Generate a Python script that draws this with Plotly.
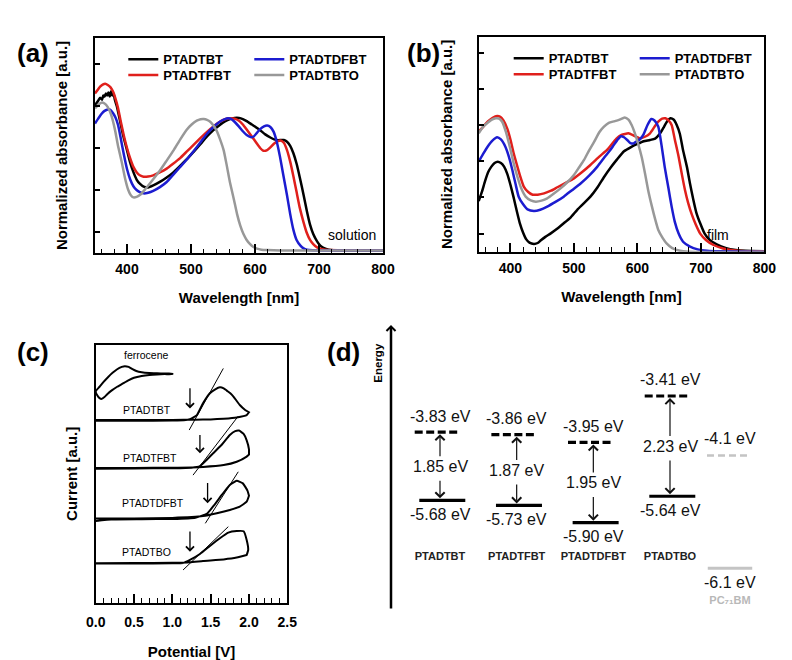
import plotly.graph_objects as go

W, H = 792, 660
FONT = "Liberation Sans, Arial, Helvetica, sans-serif"

# ======================= DATA =======================
# (a) solution UV-vis (normalized absorbance, a.u.)
sol_bk_wl = [350, 355, 358, 361, 363, 365, 367, 369, 371, 373, 375, 377, 379, 381, 384, 388, 394, 400, 405, 410,
             415, 420, 426, 433, 441, 452, 462, 472, 483, 494, 504, 515, 525, 535, 545, 553, 561, 568, 575, 581,
             587, 595, 602, 608, 616, 624, 630, 636, 641, 645, 650, 655, 660, 665, 670, 676, 681, 686, 691, 697,
             702, 707, 715, 723, 740, 760, 780, 800]
sol_bk_ab = [0.705, 0.725, 0.74, 0.73, 0.75, 0.745, 0.76, 0.75, 0.765, 0.745, 0.77, 0.75, 0.76, 0.73, 0.70, 0.645,
             0.56, 0.49, 0.43, 0.385, 0.35, 0.33, 0.316, 0.312, 0.322, 0.340, 0.360, 0.383, 0.415, 0.448, 0.482,
             0.52, 0.555, 0.585, 0.610, 0.627, 0.638, 0.643, 0.643, 0.638, 0.628, 0.612, 0.598, 0.585, 0.565,
             0.550, 0.541, 0.537, 0.538, 0.538, 0.530, 0.510, 0.475, 0.425, 0.36, 0.275, 0.20, 0.135, 0.09,
             0.055, 0.035, 0.025, 0.016, 0.013, 0.012, 0.012, 0.012, 0.012]

sol_rd_wl = [350, 355, 358, 362, 366, 370, 374, 378, 382, 386, 390, 395, 400, 405, 410, 415, 420, 426, 433, 441,
             452, 462, 472, 483, 494, 504, 515, 525, 535, 545, 553, 561, 568, 575, 581, 587, 595, 602, 608, 613,
             619, 624, 630, 636, 640, 645, 650, 655, 660, 665, 670, 676, 681, 686, 691, 697, 705, 715, 740, 800]
sol_rd_ab = [0.76, 0.78, 0.792, 0.802, 0.806, 0.80, 0.79, 0.77, 0.735, 0.69, 0.63, 0.56, 0.50, 0.45, 0.41, 0.385,
             0.37, 0.363, 0.364, 0.370, 0.385, 0.402, 0.425, 0.452, 0.485, 0.515, 0.548, 0.577, 0.603, 0.625,
             0.637, 0.642, 0.640, 0.630, 0.612, 0.588, 0.555, 0.525, 0.50, 0.487, 0.49, 0.503, 0.522, 0.533,
             0.536, 0.525, 0.49, 0.435, 0.365, 0.29, 0.215, 0.145, 0.095, 0.062, 0.042, 0.027, 0.018, 0.014,
             0.013, 0.013]

sol_bl_wl = [350, 355, 360, 365, 370, 374, 378, 382, 386, 390, 395, 400, 405, 410, 415, 420, 426, 433, 441, 452,
             462, 472, 483, 494, 504, 515, 525, 535, 545, 553, 558, 563, 568, 575, 581, 587, 593, 598, 603, 608,
             614, 619, 624, 629, 634, 639, 644, 650, 655, 660, 665, 671, 676, 681, 690, 720, 800]
sol_bl_ab = [0.617, 0.64, 0.662, 0.677, 0.684, 0.682, 0.667, 0.645, 0.61, 0.55, 0.47, 0.40, 0.35, 0.318, 0.30,
             0.29, 0.284, 0.287, 0.296, 0.315, 0.338, 0.372, 0.41, 0.448, 0.485, 0.528, 0.568, 0.600, 0.625,
             0.638, 0.642, 0.638, 0.625, 0.602, 0.580, 0.562, 0.552, 0.555, 0.572, 0.590, 0.603, 0.607, 0.600,
             0.578, 0.53, 0.459, 0.375, 0.275, 0.185, 0.11, 0.062, 0.035, 0.022, 0.016, 0.013, 0.012, 0.012]

sol_gy_wl = [350, 355, 360, 365, 370, 375, 381, 386, 392, 397, 402, 406, 410, 415, 420, 428, 436, 444, 452, 462,
             473, 483, 493, 501, 509, 515, 520, 525, 530, 535, 540, 545, 551, 556, 561, 567, 572, 577, 582, 587,
             592, 597, 603, 610, 619, 640, 700, 800]
sol_gy_ab = [0.689, 0.705, 0.716, 0.712, 0.695, 0.66, 0.59, 0.51, 0.43, 0.355, 0.30, 0.275, 0.265, 0.267, 0.276,
             0.302, 0.332, 0.363, 0.395, 0.44, 0.49, 0.54, 0.586, 0.612, 0.630, 0.637, 0.638, 0.634, 0.625, 0.607,
             0.583, 0.545, 0.49, 0.415, 0.335, 0.255, 0.185, 0.13, 0.09, 0.062, 0.043, 0.03, 0.021, 0.016,
             0.014, 0.012, 0.012, 0.012]

# (b) film UV-vis
film_bk_wl = [350, 355, 360, 365, 370, 375, 380, 385, 390, 395, 400, 405, 410, 415, 420, 425, 430, 437, 443, 448,
              455, 463, 473, 484, 495, 505, 515, 526, 537, 547, 558, 568, 579, 590, 600, 610, 620, 628, 636, 642,
              647, 652, 657, 662, 667, 672, 678, 683, 688, 693, 699, 706, 714, 725, 740, 755, 770, 800]
film_bk_ab = [0.28, 0.33, 0.39, 0.44, 0.47, 0.49, 0.497, 0.49, 0.47, 0.43, 0.37, 0.30, 0.225, 0.155, 0.105, 0.068,
              0.05, 0.043, 0.048, 0.063, 0.082, 0.10, 0.125, 0.157, 0.19, 0.23, 0.265, 0.304, 0.355, 0.41, 0.465,
              0.51, 0.555, 0.578, 0.595, 0.61, 0.617, 0.625, 0.654, 0.69, 0.72, 0.737, 0.73, 0.70, 0.65, 0.56,
              0.47, 0.375, 0.29, 0.215, 0.157, 0.10, 0.065, 0.04, 0.02, 0.01, 0.005, 0.003]

film_rd_wl = [350, 357, 364, 372, 379, 384, 389, 395, 400, 405, 411, 416, 421, 428, 435, 443, 453, 464, 474, 487,
              500, 513, 526, 540, 553, 567, 575, 586, 595, 604, 612, 620, 627, 633, 639, 644, 649, 654, 659, 665,
              670, 675, 680, 686, 692, 699, 708, 720, 735, 750, 770, 800]
film_rd_ab = [0.663, 0.69, 0.718, 0.74, 0.75, 0.745, 0.725, 0.68, 0.62, 0.545, 0.47, 0.41, 0.36, 0.33, 0.315,
              0.315, 0.322, 0.337, 0.356, 0.38, 0.405, 0.44, 0.479, 0.525, 0.565, 0.625, 0.645, 0.654, 0.64,
              0.626, 0.635, 0.654, 0.69, 0.718, 0.735, 0.737, 0.725, 0.70, 0.62, 0.525, 0.43, 0.341, 0.27,
              0.203, 0.15, 0.10, 0.065, 0.037, 0.018, 0.008, 0.003, 0.002]

film_bl_wl = [350, 357, 364, 372, 379, 385, 392, 398, 403, 408, 413, 420, 427, 437, 447, 458, 471, 484, 497, 511,
              524, 537, 550, 557, 563, 568, 574, 579, 584, 589, 594, 599, 604, 610, 616, 622, 627, 633, 638, 643,
              649, 654, 659, 665, 672, 683, 695, 710, 730, 800]
film_bl_ab = [0.497, 0.54, 0.58, 0.615, 0.632, 0.62, 0.58, 0.52, 0.451, 0.375, 0.304, 0.262, 0.234, 0.225,
              0.232, 0.249, 0.275, 0.304, 0.34, 0.378, 0.42, 0.47, 0.53, 0.56, 0.59, 0.615, 0.638, 0.632, 0.617,
              0.60, 0.598, 0.61, 0.621, 0.65, 0.70, 0.733, 0.725, 0.69, 0.59, 0.47, 0.35, 0.249, 0.165, 0.10,
              0.055, 0.028, 0.013, 0.005, 0.002, 0.0]

film_gy_wl = [350, 357, 364, 370, 377, 382, 387, 393, 400, 405, 411, 417, 424, 432, 440, 449, 458, 468, 479, 490,
              500, 508, 516, 524, 532, 540, 547, 555, 563, 571, 580, 586, 591, 596, 601, 607, 612, 617, 623, 628,
              633, 640, 646, 655, 667, 680, 800]
film_gy_ab = [0.654, 0.69, 0.712, 0.728, 0.737, 0.735, 0.718, 0.66, 0.565, 0.49, 0.414, 0.35, 0.304, 0.283,
              0.276, 0.282, 0.295, 0.32, 0.35, 0.385, 0.424, 0.465, 0.507, 0.56, 0.608, 0.66, 0.69, 0.712, 0.72,
              0.728, 0.742, 0.73, 0.70, 0.655, 0.599, 0.52, 0.433, 0.34, 0.249, 0.18, 0.12, 0.075, 0.046, 0.02,
              0.005, 0.0, 0.0]

# (c) cyclic voltammetry (potential V, current a.u. incl. stacking offset)
fc_fwd_v = [0.0, 0.05, 0.1, 0.16, 0.22, 0.28, 0.34, 0.38, 0.43, 0.48, 0.53, 0.6, 0.7, 0.8, 0.9, 1.0]
fc_fwd_i = [8.20, 8.38, 8.56, 8.75, 8.92, 9.06, 9.15, 9.18, 9.15, 9.06, 8.99, 8.94, 8.91, 8.90, 8.89, 8.89]
fc_rev_v = [1.0, 0.9, 0.8, 0.7, 0.6, 0.5, 0.42, 0.35, 0.28, 0.21, 0.15, 0.11, 0.08, 0.05, 0.02, 0.0]
fc_rev_i = [8.87, 8.87, 8.86, 8.84, 8.80, 8.73, 8.62, 8.50, 8.38, 8.24, 8.09, 7.97, 7.91, 7.94, 8.05, 8.20]

bt_fwd_v = [0.0, 0.5, 1.0, 1.15, 1.23, 1.32, 1.40, 1.49, 1.56, 1.62, 1.67, 1.71, 1.76, 1.80, 1.88, 1.95, 2.0]
bt_fwd_i = [7.06, 7.06, 7.07, 7.08, 7.12, 7.28, 7.74, 8.13, 8.28, 8.36, 8.32, 8.23, 8.12, 7.99, 7.67, 7.48, 7.39]
bt_rev_v = [2.0, 1.97, 1.84, 1.67, 1.5, 1.3, 1.0, 0.5, 0.0]
bt_rev_i = [7.39, 7.28, 7.19, 7.14, 7.11, 7.10, 7.09, 7.09, 7.09]

fbt_fwd_v = [0.0, 0.5, 1.0, 1.25, 1.36, 1.45, 1.55, 1.65, 1.75, 1.82, 1.87, 1.93, 1.97, 2.0, 2.0]
fbt_fwd_i = [5.20, 5.21, 5.22, 5.24, 5.30, 5.55, 5.85, 6.15, 6.51, 6.66, 6.68, 6.55, 6.30, 5.95, 5.75]
fbt_rev_v = [2.0, 1.97, 1.84, 1.67, 1.4, 1.0, 0.5, 0.0]
fbt_rev_i = [5.75, 5.67, 5.47, 5.34, 5.27, 5.24, 5.23, 5.23]

dfbt_fwd_v = [0.0, 0.08, 0.2, 0.6, 1.0, 1.3, 1.45, 1.55, 1.65, 1.75, 1.84, 1.92, 1.98, 2.0]
dfbt_fwd_i = [3.17, 3.20, 3.23, 3.24, 3.25, 3.30, 3.45, 3.80, 4.20, 4.57, 4.73, 4.63, 4.35, 4.15]
dfbt_rev_v = [2.0, 1.97, 1.88, 1.75, 1.58, 1.40, 1.0, 0.5, 0.0]
dfbt_rev_i = [4.15, 3.92, 3.73, 3.60, 3.47, 3.36, 3.29, 3.27, 3.27]

bo_fwd_v = [0.0, 0.5, 1.0, 1.14, 1.23, 1.36, 1.49, 1.62, 1.73, 1.84, 1.93, 1.97, 1.99, 1.97]
bo_fwd_i = [1.52, 1.52, 1.53, 1.54, 1.66, 1.89, 2.20, 2.50, 2.72, 2.78, 2.77, 2.43, 2.05, 1.85]
bo_rev_v = [1.97, 1.84, 1.67, 1.40, 1.23, 1.0, 0.5, 0.0]
bo_rev_i = [1.85, 1.75, 1.68, 1.62, 1.57, 1.55, 1.54, 1.53]

# onset tangent lines: (V0, I0, V1, I1)
tangents = [(1.22, 6.70, 1.665, 9.09), (1.27, 4.95, 1.86, 7.24),
            (1.43, 3.08, 1.86, 5.08), (1.14, 1.27, 1.73, 2.95)]
# onset arrows: (V, I_tail, I_head)
onsets = [(1.23, 8.38, 7.54), (1.36, 6.57, 5.80), (1.46, 4.70, 3.86), (1.23, 2.82, 1.98)]

# (d) energy levels
polymers = ["PTADTBT", "PTADTFBT", "PTADTDFBT", "PTADTBO"]
lumo = [-3.83, -3.86, -3.95, -3.41]
homo = [-5.68, -5.73, -5.90, -5.64]
gap = [1.85, 1.87, 1.95, 2.23]
acceptor = "PC\u2087\u2081BM"
acc_lumo = -4.1
acc_homo = -6.1

# ======================= STYLE / LAYOUT =======================
COL = {"PTADTBT": "#000000", "PTADTFBT": "#e0201c", "PTADTDFBT": "#1c1cd0", "PTADTBTO": "#989898"}


def dom_x(a, b):
    return [a / W, b / W]


def dom_y(bottom, top):
    return [1 - bottom / H, 1 - top / H]


fig = go.Figure()

sol = [("PTADTBT", sol_bk_wl, sol_bk_ab, "legend"), ("PTADTFBT", sol_rd_wl, sol_rd_ab, "legend2"),
       ("PTADTDFBT", sol_bl_wl, sol_bl_ab, "legend"), ("PTADTBTO", sol_gy_wl, sol_gy_ab, "legend2")]
film = [("PTADTBT", film_bk_wl, film_bk_ab, "legend3"), ("PTADTFBT", film_rd_wl, film_rd_ab, "legend4"),
        ("PTADTDFBT", film_bl_wl, film_bl_ab, "legend3"), ("PTADTBTO", film_gy_wl, film_gy_ab, "legend4")]

for name, x, y, lg in sol:
    fig.add_trace(go.Scatter(x=x, y=y, mode="lines", name=name, legend=lg, xaxis="x", yaxis="y",
                             line=dict(color=COL[name], width=2.5, shape="spline", smoothing=0.5)))
for name, x, y, lg in film:
    fig.add_trace(go.Scatter(x=x, y=y, mode="lines", name=name, legend=lg, xaxis="x2", yaxis="y2",
                             line=dict(color=COL[name], width=2.5, shape="spline", smoothing=0.5)))

cv = [(fc_fwd_v, fc_fwd_i, fc_rev_v, fc_rev_i), (bt_fwd_v, bt_fwd_i, bt_rev_v, bt_rev_i),
      (fbt_fwd_v, fbt_fwd_i, fbt_rev_v, fbt_rev_i), (dfbt_fwd_v, dfbt_fwd_i, dfbt_rev_v, dfbt_rev_i),
      (bo_fwd_v, bo_fwd_i, bo_rev_v, bo_rev_i)]
for fv, fi, rv, ri in cv:
    fig.add_trace(go.Scatter(x=fv + rv, y=fi + ri, mode="lines", showlegend=False, xaxis="x3", yaxis="y3",
                             line=dict(color="black", width=2, shape="spline", smoothing=0.4)))
for v0, i0, v1, i1 in tangents:
    fig.add_trace(go.Scatter(x=[v0, v1], y=[i0, i1], mode="lines", showlegend=False, xaxis="x3", yaxis="y3",
                             line=dict(color="black", width=1)))

# energy levels
for k in range(len(polymers)):
    fig.add_trace(go.Scatter(x=[k - 0.33, k + 0.27], y=[lumo[k], lumo[k]], mode="lines", showlegend=False,
                             xaxis="x4", yaxis="y4", line=dict(color="black", width=3.2, dash="8px,3.5px")))
    fig.add_trace(go.Scatter(x=[k - 0.27, k + 0.33], y=[homo[k], homo[k]], mode="lines", showlegend=False,
                             xaxis="x4", yaxis="y5", line=dict(color="black", width=3.2)))
fig.add_trace(go.Scatter(x=[-0.3, 0.25], y=[acc_lumo, acc_lumo], mode="lines", showlegend=False,
                         xaxis="x5", yaxis="y4", line=dict(color="#c4c4c4", width=2.5, dash="7px,4px")))
fig.add_trace(go.Scatter(x=[-0.29, 0.29], y=[acc_homo, acc_homo], mode="lines", showlegend=False,
                         xaxis="x5", yaxis="y6", line=dict(color="#c4c4c4", width=3)))

# axes geometry (pixels)
X4_RANGE, X4_DOM = [-0.5, 3.5], (401.67, 708.33)
X5_RANGE, X5_DOM = [-0.5, 0.5], (691.67, 768.33)
Y4_RANGE, Y4_DOM = [-4.3, -3.2], (472.6, 377.9)
Y5_RANGE, Y5_DOM = [-6.0, -5.5], (532.9, 482.0)
Y6_RANGE, Y6_DOM = [-6.2, -6.0], (578.5, 558.1)


def ypix(e, rng, dom):
    b, t = dom
    return b - (e - rng[0]) / (rng[1] - rng[0]) * (b - t)


tickfont = dict(family=FONT, size=14, color="black", weight="bold")
titlefont = dict(family=FONT, size=15, color="black", weight="bold")


def xbox(rng, dtick, mdtick, title, standoff, lstand, fmt=None):
    d = dict(range=rng, dtick=dtick, tick0=0, ticks="inside", ticklen=9, tickwidth=1.5, tickcolor="black",
             minor=dict(dtick=mdtick, ticks="inside", ticklen=4.5, tickwidth=1.2, tickcolor="black"),
             showline=True, linecolor="black", linewidth=2, mirror=True, showgrid=False, zeroline=False,
             tickfont=tickfont, ticklabelstandoff=lstand, automargin=False,
             title=dict(text=title, font=titlefont, standoff=standoff))
    if fmt:
        d["tickformat"] = fmt
    return d


def ybox(rng, tickvals, title, standoff, ticks=True):
    return dict(range=rng, tickvals=tickvals, ticks="inside" if ticks else "", ticklen=5, tickwidth=1.5,
                tickcolor="black", showticklabels=False, showline=True, linecolor="black", linewidth=2,
                mirror=True, showgrid=False, zeroline=False, automargin=False,
                title=dict(text=title, font=titlefont, standoff=standoff))


hidden = dict(visible=False, showgrid=False, zeroline=False, automargin=False)

layout = dict(
    width=W, height=H, autosize=False, margin=dict(l=0, r=0, t=0, b=0, pad=0),
    paper_bgcolor="white", plot_bgcolor="rgba(0,0,0,0)", font=dict(family=FONT, color="black"),
    xaxis=dict(domain=dom_x(95, 383), anchor="y", **xbox([350, 800], 100, 20, "Wavelength [nm]", 17, 2)),
    yaxis=dict(domain=dom_y(253, 38), anchor="x",
               **ybox([0, 1.024], [0.1, 0.3, 0.5, 0.7, 0.9], "Normalized absorbance [a.u.]", 22)),
    xaxis2=dict(domain=dom_x(478.7, 764.3), anchor="y2", **xbox([350, 800], 100, 20, "Wavelength [nm]", 17, 2)),
    yaxis2=dict(domain=dom_y(251.7, 37), anchor="x2",
                **ybox([0, 1.186], [0.1, 0.3, 0.5, 0.7, 0.9, 1.1], "Normalized absorbance [a.u.]", 20)),
    xaxis3=dict(domain=dom_x(95.7, 287.3), anchor="y3",
                **xbox([0, 2.5], 0.5, 0.1, "Potential [V]", 18, 5, ".1f")),
    yaxis3=dict(domain=dom_y(602.7, 345), anchor="x3", **ybox([0, 10], [], "Current [a.u.]", 12, ticks=False)),
    xaxis4=dict(domain=dom_x(*X4_DOM), range=X4_RANGE, anchor="free", position=1 - 548 / H,
                tickvals=list(range(len(polymers))), ticktext=polymers, ticks="", showline=False,
                showgrid=False, zeroline=False, automargin=False,
                tickfont=dict(family=FONT, size=11, color="#222", weight="bold")),
    xaxis5=dict(domain=dom_x(*X5_DOM), range=X5_RANGE, anchor="free", position=1 - 592 / H,
                tickvals=[0], ticktext=[acceptor], ticks="", showline=False, showgrid=False, zeroline=False,
                automargin=False, tickfont=dict(family=FONT, size=11, color="#b8b8b8", weight="bold")),
    yaxis4=dict(domain=dom_y(*Y4_DOM), range=Y4_RANGE, anchor="x4", **hidden),
    yaxis5=dict(domain=dom_y(*Y5_DOM), range=Y5_RANGE, anchor="x4", **hidden),
    yaxis6=dict(domain=dom_y(*Y6_DOM), range=Y6_RANGE, anchor="x5", **hidden),
)

legfont = dict(family=FONT, size=13, color="black", weight="bold")


def leg(xpx, ypx):
    return dict(x=xpx / W, y=1 - ypx / H, xanchor="left", yanchor="middle", orientation="h",
                entrywidth=81, entrywidthmode="pixels", font=legfont, bgcolor="rgba(0,0,0,0)",
                itemwidth=30, tracegroupgap=0)


layout["legend"] = leg(123.3, 59.3)
layout["legend2"] = leg(123.3, 75)
layout["legend3"] = leg(508.7, 58.3)
layout["legend4"] = leg(508.7, 74.3)

ann = []


def paper_text(text, xpx, ypx, size, bold=True, angle=0, color="black"):
    ann.append(dict(text=text, x=xpx / W, y=1 - ypx / H, xref="paper", yref="paper", showarrow=False,
                    xanchor="center", yanchor="middle", textangle=angle,
                    font=dict(family=FONT, size=size, color=color, weight="bold" if bold else "normal")))


paper_text("(a)", 33, 53, 26)
paper_text("(b)", 423.5, 53, 26)
paper_text("(c)", 33, 352, 26)
paper_text("(d)", 343, 352, 26)
paper_text("Energy", 377.7, 363, 11.5, angle=-90)

plain = dict(family=FONT, size=14, color="black")
ann.append(dict(text="solution", x=752, y=0.086, xref="x", yref="y", showarrow=False, font=plain))
ann.append(dict(text="film", x=727, y=0.092, xref="x2", yref="y2", showarrow=False, font=plain))

cvfont = dict(family=FONT, size=10.5, color="black")
for txt, v, i in [("ferrocene", 0.665, 9.61), ("PTADTBT", 0.665, 7.48), ("PTADTFBT", 0.71, 5.60),
                  ("PTADTDFBT", 0.75, 3.86), ("PTADTBO", 0.665, 1.98)]:
    ann.append(dict(text=txt, x=v, y=i, xref="x3", yref="y3", showarrow=False, font=cvfont))
for v, itail, ihead in onsets:
    ann.append(dict(text="", x=v, y=ihead, ax=v, ay=itail, xref="x3", yref="y3", axref="x3", ayref="y3",
                    showarrow=True, arrowhead=4, arrowsize=1.2, arrowwidth=1.3, arrowcolor="black", standoff=0))

# Energy axis arrow
ann.append(dict(text="", x=391 / W, y=1 - 325 / H, xref="paper", yref="paper", ax=0, ay=285,
                showarrow=True, arrowhead=4, arrowsize=0.7, arrowwidth=2.5, arrowcolor="black", standoff=0))

efont = dict(family=FONT, size=16, color="#111")
for k in range(len(polymers)):
    ann.append(dict(text=f"{lumo[k]:.2f} eV", x=k, y=lumo[k], xref="x4", yref="y4", showarrow=False,
                    yshift=16, font=efont))
    ann.append(dict(text=f"{homo[k]:.2f} eV", x=k, y=homo[k], xref="x4", yref="y5", showarrow=False,
                    yshift=-14, font=efont))
    lp = ypix(lumo[k], Y4_RANGE, Y4_DOM)
    hp = ypix(homo[k], Y5_RANGE, Y5_DOM)
    mid = (lp + hp) / 2
    ann.append(dict(text=f"{gap[k]:.2f} eV", x=k, y=lumo[k], xref="x4", yref="y4", showarrow=True,
                    ax=0, ay=mid - lp, arrowhead=4, arrowsize=1.5, arrowwidth=1.2, arrowcolor="#111",
                    standoff=2, font=efont))
    ann.append(dict(text="", x=k, y=homo[k], xref="x4", yref="y5", showarrow=True,
                    ax=0, ay=(mid + 13) - hp, arrowhead=4, arrowsize=1.5, arrowwidth=1.2, arrowcolor="#111",
                    standoff=2))
ann.append(dict(text=f"{acc_lumo:.1f} eV", x=0, y=acc_lumo, xref="x5", yref="y4", showarrow=False,
                yshift=17, font=efont))
ann.append(dict(text=f"{acc_homo:.1f} eV", x=0, y=acc_homo, xref="x5", yref="y6", showarrow=False,
                yshift=-14, font=efont))

layout["annotations"] = ann
fig.update_layout(**layout)
fig.write_html("out.html")
